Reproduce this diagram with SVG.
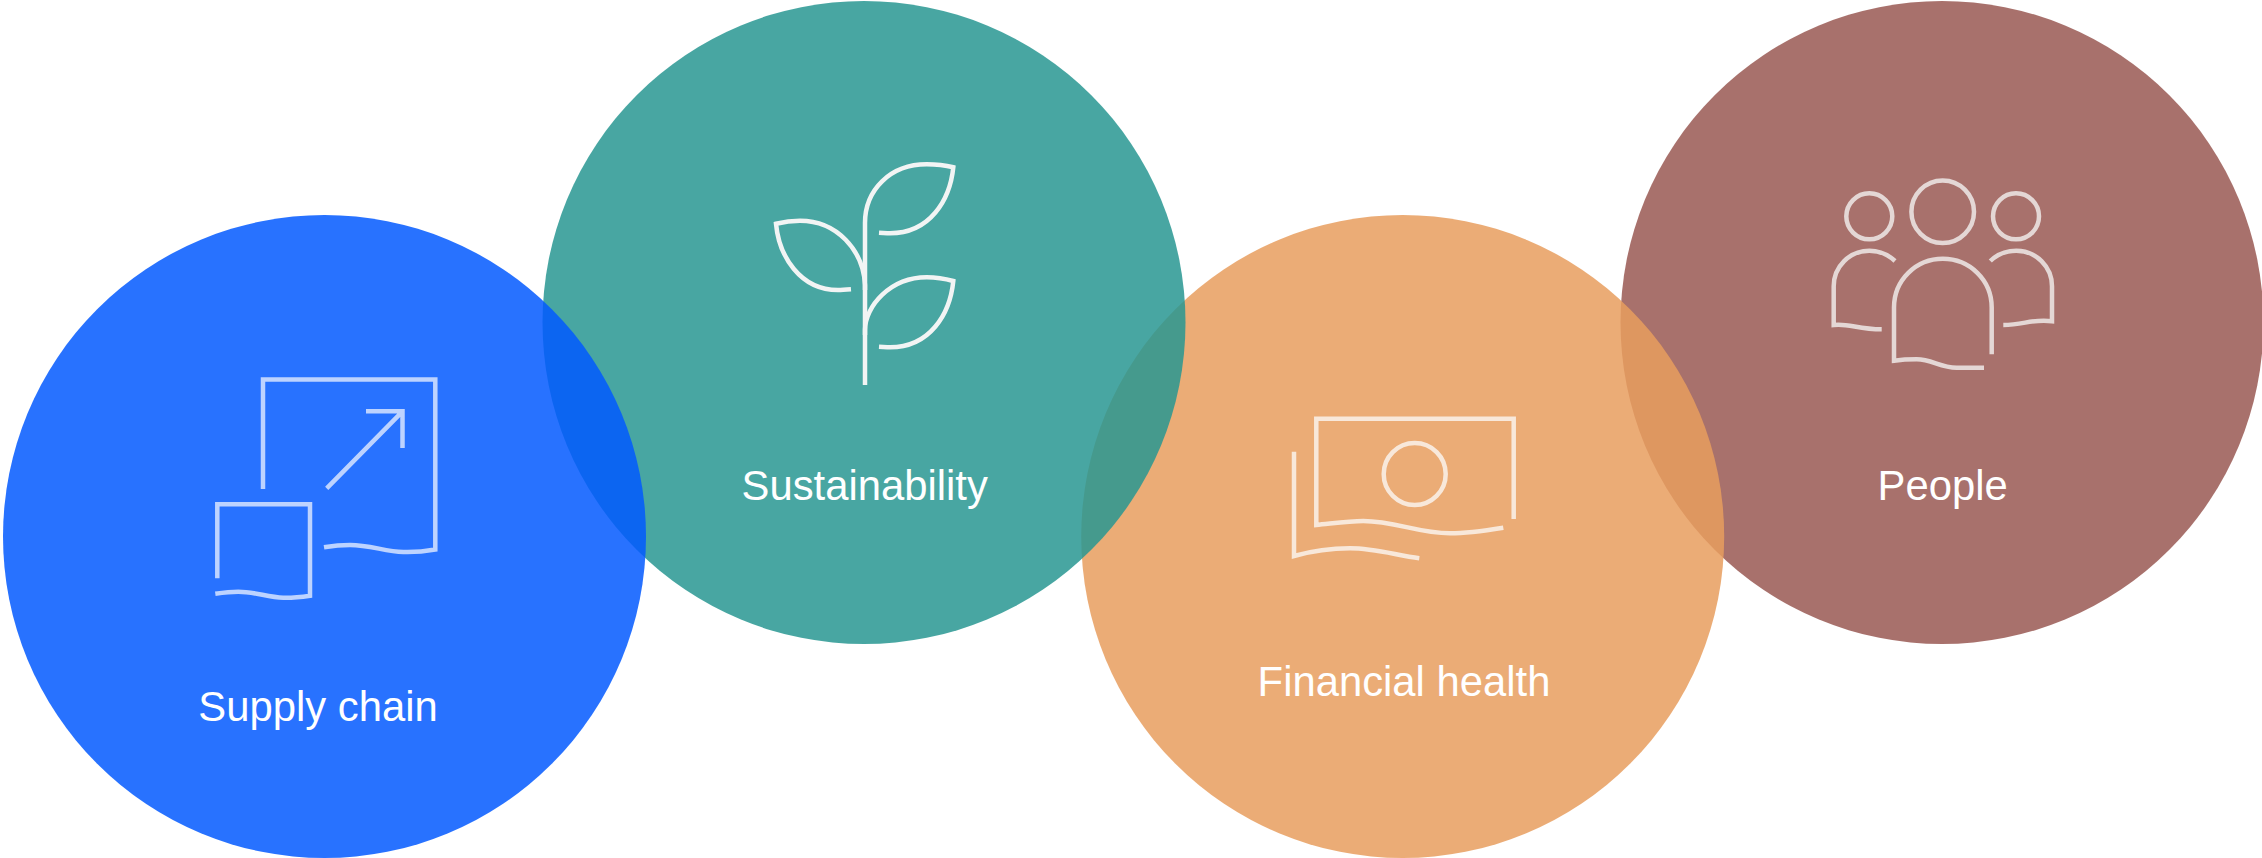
<svg xmlns="http://www.w3.org/2000/svg" width="2262" height="858" viewBox="0 0 2262 858">
<style>
.disc{fill-opacity:.85}
.ico{fill:none;stroke-width:4.5}
.lbl{font-family:"Liberation Sans",Arial,sans-serif;font-size:41.8px;fill:#fff;text-anchor:middle}
</style>
<rect width="2262" height="858" fill="#fff"/>
<g id="people"><circle class="disc" cx="1942" cy="322.5" r="321.5" fill="#995852"/></g>
<g id="financial-health"><circle class="disc" cx="1402.7" cy="536.5" r="321.5" fill="#e79d5e"/></g>
<g id="sustainability"><circle class="disc" cx="864" cy="322.5" r="321.5" fill="#289692"/></g>
<g id="supply-chain"><circle class="disc" cx="324.5" cy="536.5" r="321.5" fill="#0259ff"/></g>
<g id="icon-supply" class="ico" stroke="#bdd3ff">
<path d="M263,489V379.5H435.3V549.5C424,551.5 413,552.3 403.3,552C385,551.5 370,545 350,545C341,545 332,546 324,547.3"/>
<path d="M326.7,488.3L402.3,411.7M366,411.3H402.5V448"/>
<path d="M217.3,578.3V504.3H310V595.7C301,597 292,597.9 283.3,597.7C268,597.4 255,591.7 238.3,591.7C230,591.7 223,592.6 215.3,593.7"/>
</g>
<g id="icon-sustainability" class="ico" stroke="#f2f4f4">
<path d="M865,385V223C865,190 890,164.3 926.7,164.3C937,164.3 946,165.5 953.3,167.3C950,200 930,233.3 890,233.3C887,233.3 884,233 879,232.7"/>
<path d="M865,290V285C863.3,250 836.7,220.7 800,220.7C790,220.7 783,222 776,223.7C779,256 800,290 838,290C842,290 846,289.7 851,289.3"/>
<path d="M865,335V330C865,306.7 890,277.3 926.7,277.3C937,277.3 946,279 953.3,281C950,314 930,347.3 890,347.3C887,347.3 884,347 879,346.7"/>
</g>
<g id="icon-financial" class="ico" stroke="#f8e8da">
<path d="M1513.7,519V418.7H1316.3V525C1332,523.5 1348,521 1363.3,521C1395,521 1418,533.3 1450,533.3C1468,533.3 1486,530.5 1503.3,527.7"/>
<circle cx="1414.7" cy="474" r="31"/>
<path d="M1294,451.7V556C1312,551 1331,548.3 1350,548.3C1375,548.3 1397,555.5 1419.3,558.3"/>
</g>
<g id="icon-people" class="ico" stroke="#e4d7d5">
<circle cx="1942.7" cy="211.7" r="31.3"/>
<circle cx="1869.3" cy="216.3" r="23"/>
<circle cx="2016" cy="216.3" r="23"/>
<path d="M1991.7,354.3V307.5C1991.7,280 1969.6,258.7 1942.8,258.7C1916,258.7 1894,280 1894,307.5V360.7C1902,359.6 1909,359.3 1916.7,359.3C1932,359.3 1940,367.7 1956.7,367.7H1984"/>
<path d="M1895,261C1888,254.5 1879,250.7 1869.3,250.7C1849.6,250.7 1833.7,266.6 1833.7,286.3V325C1848,323 1858,329.3 1881.7,329.3"/>
<path d="M1990.3,261C1997,254.5 2006,250.7 2016.3,250.7C2036,250.7 2052,266.6 2052,286.3V321.2C2032,318.5 2024,325 2003.3,325"/>
</g>
<text class="lbl" x="318" y="721">Supply chain</text>
<text class="lbl" x="864.7" y="500">Sustainability</text>
<text class="lbl" x="1404" y="696">Financial health</text>
<text class="lbl" x="1942.7" y="500">People</text>
</svg>
